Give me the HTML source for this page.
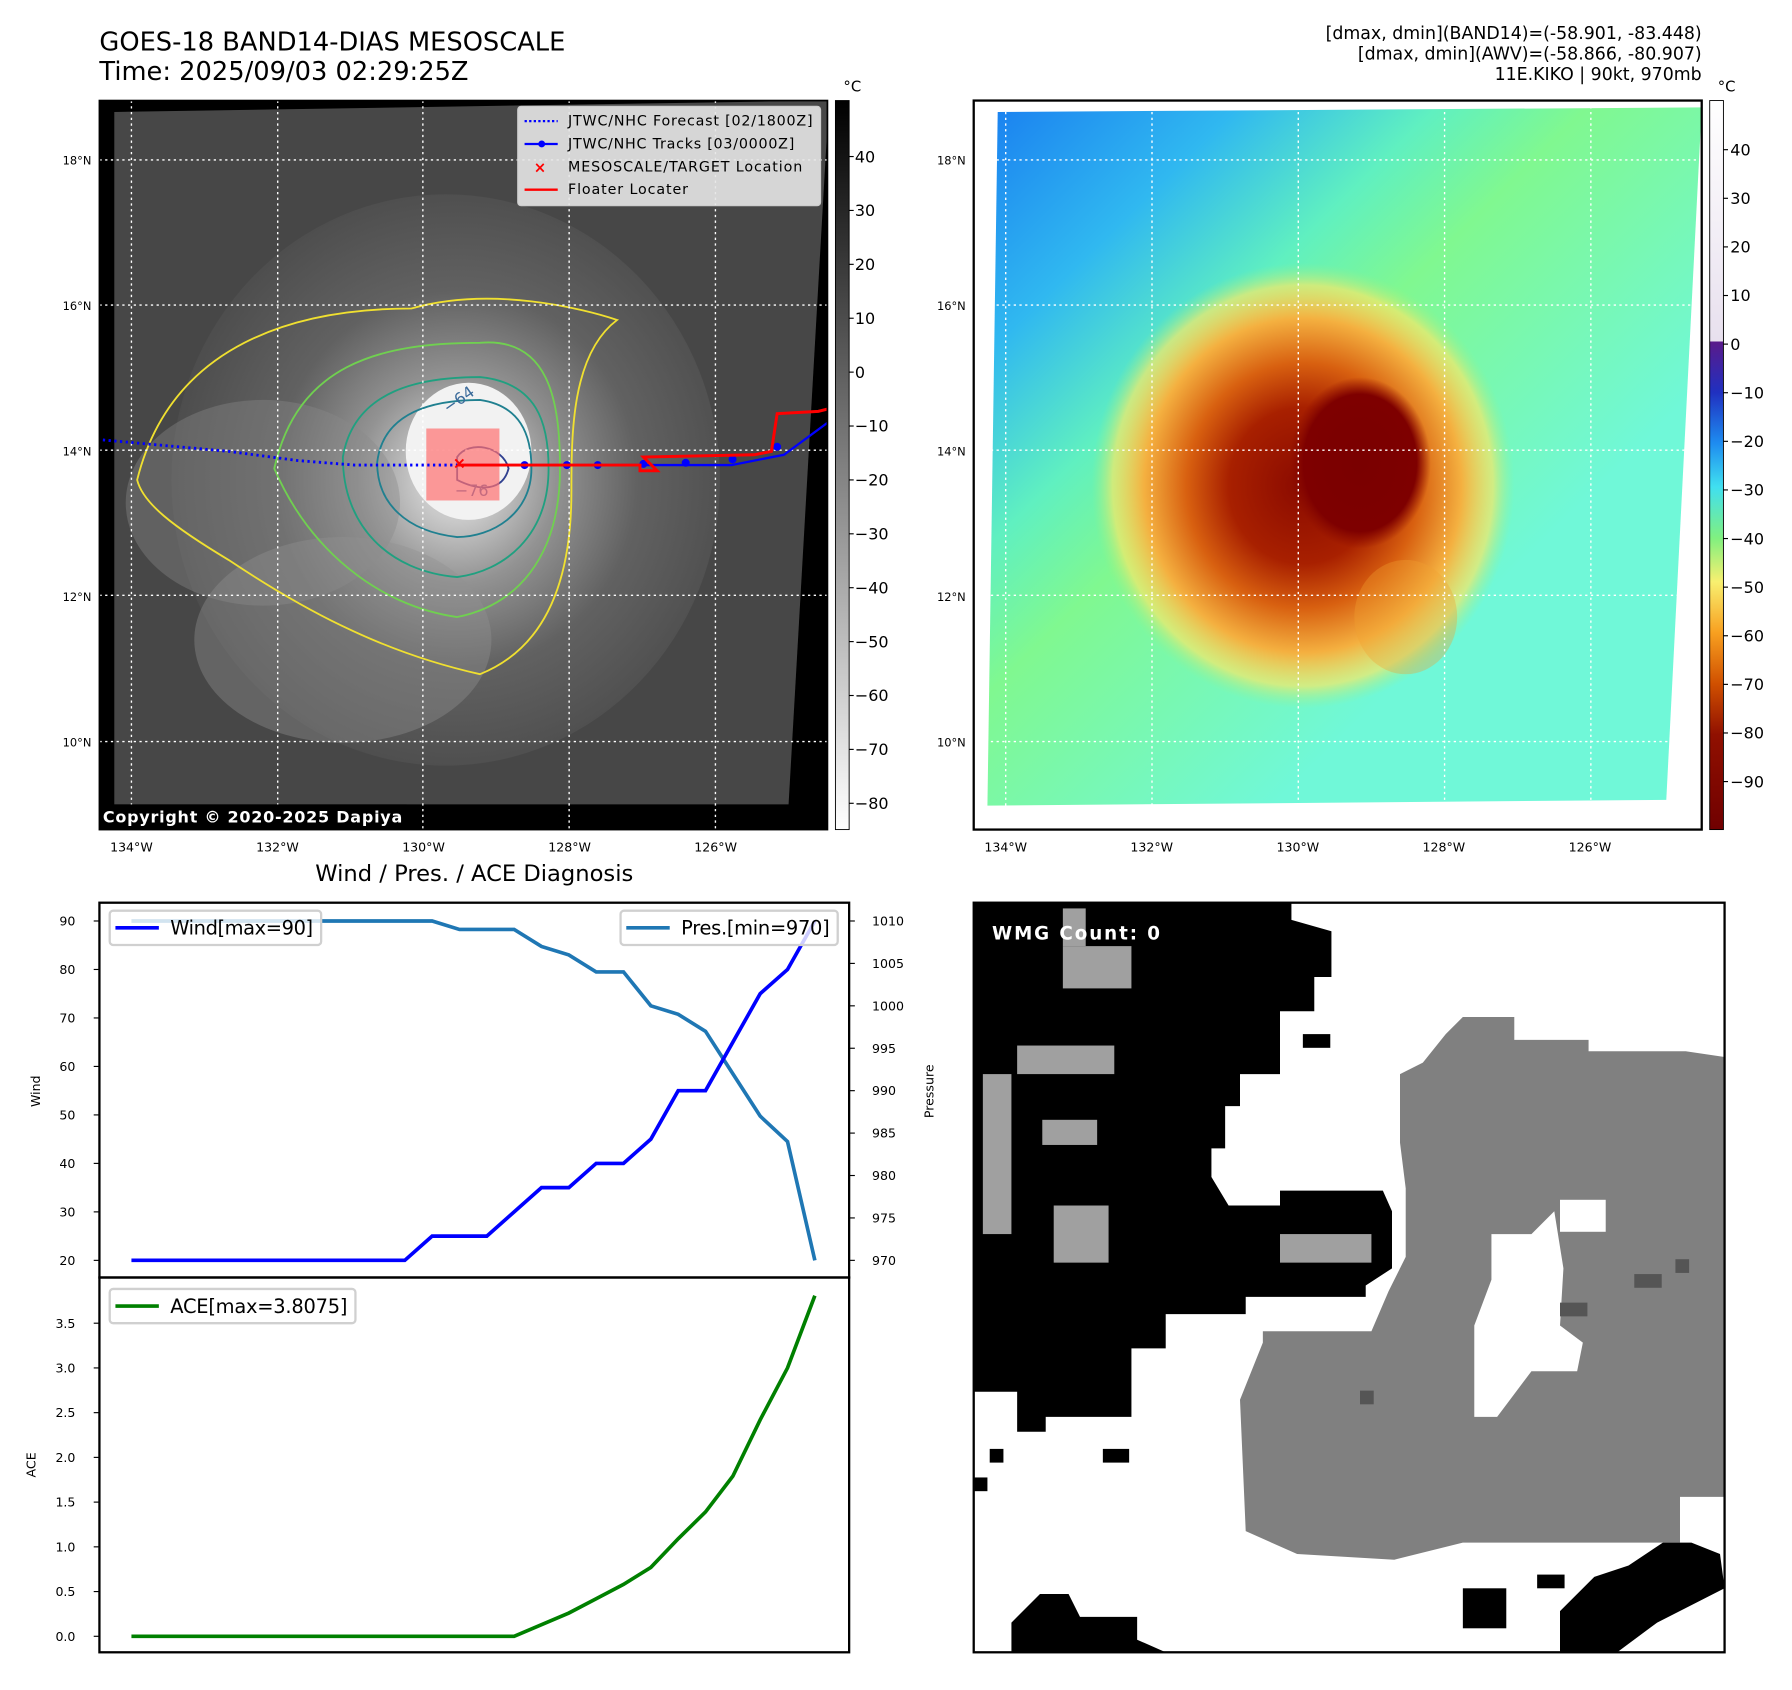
<!DOCTYPE html>
<html><head><meta charset="utf-8"><style>
html,body{margin:0;padding:0;background:#fff;}
svg{display:block;font-family:"DejaVu Sans","Liberation Sans",sans-serif;}
</style></head><body>
<svg id="fig" width="1792" height="1690" viewBox="0 0 1568 1479" preserveAspectRatio="none" xmlns="http://www.w3.org/2000/svg">
<defs>
<radialGradient id="cloud" cx="0.52" cy="0.5" r="0.6">
<stop offset="0" stop-color="#f4f4f4"/><stop offset="0.12" stop-color="#e0e0e0"/><stop offset="0.3" stop-color="#a0a0a0"/><stop offset="0.55" stop-color="#666"/><stop offset="1" stop-color="#444"/></radialGradient>
<linearGradient id="gbar" x1="0" y1="0" x2="0" y2="1"><stop offset="0" stop-color="#000"/><stop offset="1" stop-color="#fff"/></linearGradient>
<linearGradient id="cbar" x1="0" y1="0" x2="0" y2="1">
<stop offset="0" stop-color="#ffffff"/><stop offset="0.33" stop-color="#e8e0ee"/><stop offset="0.331" stop-color="#5a1a8a"/><stop offset="0.4" stop-color="#2030c0"/><stop offset="0.47" stop-color="#1e8cf0"/><stop offset="0.53" stop-color="#40e0f0"/><stop offset="0.6" stop-color="#80f080"/><stop offset="0.66" stop-color="#f8f070"/><stop offset="0.73" stop-color="#f8a020"/><stop offset="0.8" stop-color="#d05000"/><stop offset="0.87" stop-color="#901000"/><stop offset="1" stop-color="#700000"/></linearGradient>
<linearGradient id="awvbg" x1="0" y1="0" x2="0.7" y2="0.7"><stop offset="0" stop-color="#1a80f0"/><stop offset="0.25" stop-color="#30b8f0"/><stop offset="0.45" stop-color="#60f0c0"/><stop offset="0.6" stop-color="#80f890"/><stop offset="1" stop-color="#70f8d8"/></linearGradient>
<radialGradient id="awv" cx="0.5" cy="0.5" r="0.5"><stop offset="0" stop-color="#8a0a00"/><stop offset="0.35" stop-color="#a82000"/><stop offset="0.55" stop-color="#d86010"/><stop offset="0.75" stop-color="#f4b040"/><stop offset="0.9" stop-color="#f8e868" stop-opacity="0.7"/><stop offset="1" stop-color="#a0f080" stop-opacity="0"/></radialGradient>
<radialGradient id="eye" cx="0.5" cy="0.5" r="0.5"><stop offset="0" stop-color="#7a0000"/><stop offset="0.8" stop-color="#7e0000"/><stop offset="1" stop-color="#8a0a00" stop-opacity="0"/></radialGradient>
<clipPath id="lclip"><rect x="87" y="88" width="637" height="638"/></clipPath>
</defs>

<text x="87" y="44" font-size="22.5">GOES-18 BAND14-DIAS MESOSCALE</text>
<text x="87" y="70" font-size="22.5">Time: 2025/09/03 02:29:25Z</text>
<g font-size="15.2" text-anchor="end">
<text x="1489" y="34">[dmax, dmin](BAND14)=(-58.901, -83.448)</text>
<text x="1489" y="52">[dmax, dmin](AWV)=(-58.866, -80.907)</text>
<text x="1489" y="70">11E.KIKO | 90kt, 970mb</text>
</g>

<g clip-path="url(#lclip)">
<rect x="87" y="88" width="637" height="638" fill="#000"/>
<polygon points="100,98 724,88 724,110 690,704 100,704" fill="#474747"/>
<ellipse cx="390" cy="420" rx="240" ry="250" fill="url(#cloud)" opacity="0.85"/>
<ellipse cx="230" cy="440" rx="120" ry="90" fill="#8a8a8a" opacity="0.4"/>
<ellipse cx="300" cy="560" rx="130" ry="90" fill="#909090" opacity="0.4"/>
<ellipse cx="410" cy="395" rx="55" ry="60" fill="#f2f2f2"/>
<g fill="none" stroke-width="1.6">
<path d="M120,420 C150,300 260,270 360,270 C430,250 510,270 540,280 C500,310 500,380 500,430 C500,520 470,570 420,590 C330,570 260,530 200,490 C150,460 125,440 120,420Z" stroke="#f0e030"/>
<path d="M240,410 C260,320 330,300 420,300 C480,295 490,350 490,410 C490,490 450,530 400,540 C330,530 270,480 240,410Z" stroke="#70d050"/>
<path d="M300,400 C310,340 370,330 420,330 C470,335 480,370 480,410 C480,470 440,500 400,505 C340,500 300,460 300,400Z" stroke="#20a080"/>
<path d="M330,405 C335,360 380,350 420,350 C455,355 465,380 465,410 C465,450 430,470 400,470 C355,465 330,440 330,405Z" stroke="#208090"/>
<path d="M400,400 C410,385 440,390 445,410 C440,430 420,430 400,420Z" stroke="#304090"/>
</g>
<text x="392" y="362" font-size="14" fill="#3a6a9a" transform="rotate(-35 392 362)">−64</text>
<text x="398" y="434" font-size="14" fill="#3a5aa0">−76</text>
<g stroke="#fff" stroke-width="1.2" stroke-dasharray="2,3">
<line x1="115" y1="88" x2="115" y2="726"/><line x1="243" y1="88" x2="243" y2="726"/><line x1="370" y1="88" x2="370" y2="726"/><line x1="498" y1="88" x2="498" y2="726"/><line x1="626" y1="88" x2="626" y2="726"/>
<line x1="87" y1="140" x2="724" y2="140"/><line x1="87" y1="267" x2="724" y2="267"/><line x1="87" y1="394" x2="724" y2="394"/><line x1="87" y1="521" x2="724" y2="521"/><line x1="87" y1="649" x2="724" y2="649"/>
</g>
<rect x="373" y="375" width="64" height="63" fill="#ff7070" opacity="0.7"/>
<polyline points="90,385 200,395 260,403 310,407 400,407" fill="none" stroke="#0000ff" stroke-width="2.5" stroke-dasharray="2,3"/>
<polyline points="400,407 640,407 686,398 724,370" fill="none" stroke="#0000ff" stroke-width="2"/>
<g fill="#0000ff"><circle cx="459" cy="407" r="3.5"/><circle cx="496" cy="407" r="3.5"/><circle cx="523" cy="407" r="3.5"/><circle cx="563" cy="406" r="3.5"/><circle cx="600" cy="405" r="3.5"/><circle cx="641" cy="402" r="3.5"/><circle cx="680" cy="391" r="3.5"/></g>
<polyline points="400,407 560,407 560,412 575,412 563,400 660,398 675,395 680,362 716,360 724,358" fill="none" stroke="#ff0000" stroke-width="2.6"/>
<text x="396" y="410" font-size="14" font-weight="bold" fill="#ff0000">×</text>
<rect x="84" y="704" width="272" height="22" fill="#000"/>
<text x="90" y="720" font-size="14" font-weight="bold" fill="#fff" textLength="262">Copyright © 2020-2025 Dapiya</text>
</g>
<rect x="87" y="88" width="637" height="638" fill="none" stroke="#000" stroke-width="1.5"/>
<g font-size="12.5">
<rect x="453" y="93" width="265" height="87" rx="3" fill="#e6e6e6" fill-opacity="0.9" stroke="#ccc"/>
<line x1="459" y1="106" x2="488" y2="106" stroke="#0000ff" stroke-width="2" stroke-dasharray="2,2"/><text x="497" y="110" textLength="214">JTWC/NHC Forecast [02/1800Z]</text>
<line x1="459" y1="126" x2="488" y2="126" stroke="#0000ff" stroke-width="2"/><circle cx="474" cy="126" r="3" fill="#0000ff"/><text x="497" y="130" textLength="198">JTWC/NHC Tracks [03/0000Z]</text>
<text x="467" y="151" fill="#ff0000" font-weight="bold" font-size="13">×</text><text x="497" y="150" textLength="205">MESOSCALE/TARGET Location</text>
<line x1="459" y1="166" x2="488" y2="166" stroke="#ff0000" stroke-width="2"/><text x="497" y="170" textLength="105">Floater Locater</text>
</g>
<rect x="731" y="88" width="12" height="638" fill="url(#gbar)" stroke="#000" stroke-width="0.8"/>
<text x="738" y="80" font-size="13">°C</text>
<g id="lcb" font-size="14"></g>
<g id="lmapticks" font-size="11"></g>

<g>
<rect x="852" y="88" width="637" height="638" fill="#fff"/>
<polygon points="873,98 1489,94 1458,700 864,705" fill="url(#awvbg)"/>
<ellipse cx="1140" cy="425" rx="185" ry="195" fill="url(#awv)"/>
<ellipse cx="1230" cy="540" rx="45" ry="50" fill="#f0a030" opacity="0.35"/>
<ellipse cx="1190" cy="405" rx="62" ry="75" fill="url(#eye)"/>
<g stroke="#fff" stroke-width="1.2" stroke-dasharray="2,3">
<line x1="880" y1="88" x2="880" y2="726"/><line x1="1008" y1="88" x2="1008" y2="726"/><line x1="1136" y1="88" x2="1136" y2="726"/><line x1="1264" y1="88" x2="1264" y2="726"/><line x1="1392" y1="88" x2="1392" y2="726"/>
<line x1="852" y1="140" x2="1489" y2="140"/><line x1="852" y1="267" x2="1489" y2="267"/><line x1="852" y1="394" x2="1489" y2="394"/><line x1="852" y1="521" x2="1489" y2="521"/><line x1="852" y1="649" x2="1489" y2="649"/>
</g>
<rect x="852" y="88" width="637" height="638" fill="none" stroke="#000" stroke-width="2"/>
</g>
<rect x="1496" y="88" width="12" height="638" fill="url(#cbar)" stroke="#000" stroke-width="0.8"/>
<text x="1503" y="80" font-size="13">°C</text>
<g id="rcb" font-size="14"></g>

<text x="415" y="771" font-size="19.8" text-anchor="middle">Wind / Pres. / ACE Diagnosis</text>
<g id="diag"></g>

<g>
<rect x="852" y="790" width="657" height="656" fill="#fff"/>
<polygon fill="#808080" points="1225,940 1245,930 1265,905 1280,890 1325,890 1325,910 1390,910 1390,920 1475,920 1509,925 1509,1310 1470,1310 1470,1350 1280,1350 1220,1365 1135,1360 1090,1340 1085,1225 1105,1175 1105,1165 1200,1165 1215,1130 1230,1100 1230,1040 1225,1000"/>
<polygon fill="#fff" points="1305,1080 1340,1080 1360,1060 1368,1110 1365,1160 1385,1175 1380,1200 1340,1200 1310,1240 1290,1240 1290,1160 1305,1120"/>
<rect x="1365" y="1050" width="40" height="28" fill="#fff"/>
<polygon fill="#000" points="852,790 1130,790 1130,805 1165,815 1165,855 1150,855 1150,885 1120,885 1120,940 1085,940 1085,968 1072,968 1072,1005 1060,1005 1060,1030 1075,1055 1120,1055 1120,1042 1210,1042 1218,1060 1218,1110 1195,1125 1195,1135 1090,1135 1090,1150 1020,1150 1020,1180 990,1180 990,1240 915,1240 915,1253 890,1253 890,1218 852,1218"/>
<g fill="#a0a0a0"><rect x="930" y="828" width="60" height="37"/><rect x="930" y="795" width="20" height="33"/><rect x="860" y="940" width="25" height="140"/><rect x="890" y="915" width="85" height="25"/><rect x="922" y="1055" width="48" height="50"/><rect x="1120" y="1080" width="80" height="25"/><rect x="912" y="980" width="48" height="22"/></g>
<polygon fill="#000" points="1365,1446 1365,1410 1395,1380 1425,1370 1455,1350 1480,1350 1505,1360 1509,1390 1450,1420 1415,1446"/>
<polygon fill="#000" points="885,1446 885,1420 910,1395 935,1395 945,1415 995,1415 995,1435 1020,1446"/>
<g fill="#000"><rect x="1280" y="1390" width="38" height="35"/><rect x="965" y="1268" width="23" height="12"/><rect x="866" y="1268" width="12" height="12"/><rect x="852" y="1293" width="12" height="12"/><rect x="1345" y="1378" width="24" height="12"/><rect x="1140" y="905" width="24" height="12"/><rect x="997" y="1055" width="12" height="12"/></g>
<g fill="#555"><rect x="1365" y="1140" width="24" height="12"/><rect x="1430" y="1115" width="24" height="12"/><rect x="1466" y="1102" width="12" height="12"/><rect x="1190" y="1217" width="12" height="12"/></g>
<rect x="852" y="790" width="657" height="656" fill="none" stroke="#000" stroke-width="2"/>
<text x="868" y="822" font-size="16" font-weight="bold" fill="#fff" textLength="147">WMG Count: 0</text>
</g>
</svg>
<script>
const NS='http://www.w3.org/2000/svg';
const idx=[0,1,2,3,4,5,6,7,8,9,10,11,12,13,14,15,16,17,18,19,20,21,22,23,24,25];
const wind=[20,20,20,20,20,20,20,20,20,20,20,25,25,25,30,35,35,40,40,45,55,55,65,75,80,90];
const pres=[1010,1010,1010,1010,1010,1010,1010,1010,1010,1010,1010,1010,1009,1009,1009,1007,1006,1004,1004,1000,999,997,992,987,984,970];
const ace=[0,0,0,0,0,0,0,0,0,0,0,0,0,0,0,0.13,0.26,0.42,0.58,0.77,1.09,1.39,1.79,2.42,3.0,3.8075];
const windTicks=[20,30,40,50,60,70,80,90];
const presTicks=[970,975,980,985,990,995,1000,1005,1010];
const aceTicks=[0.0,0.5,1.0,1.5,2.0,2.5,3.0,3.5];
const irTicks=[40,30,20,10,0,-10,-20,-30,-40,-50,-60,-70,-80];
const awvTicks=[40,30,20,10,0,-10,-20,-30,-40,-50,-60,-70,-80,-90];
const lonTicks=['134°W','132°W','130°W','128°W','126°W'];
const latTicks=['18°N','16°N','14°N','12°N','10°N'];

const xs=i=>115+i*(713-115)/25;
const yw=v=>1103-(v-20)*(1103-806)/70;
const yp=v=>1103-(v-970)*(1103-806)/40;
const ya=v=>1432-v*(1432-1158)/3.5;
const yir=v=>137+(40-v)*(703-137)/120;
const yawv=v=>131+(40-v)*(684-131)/130;
function el(tag,attrs,parent,txt){const e=document.createElementNS(NS,tag);for(const k in attrs)e.setAttribute(k,attrs[k]);if(txt!==undefined)e.textContent=txt;parent.appendChild(e);return e;}
const d=document.getElementById('diag');
let f1=el('rect',{x:87,y:790,width:656,height:328,fill:'none',stroke:'#000','stroke-width':2},d);


let f2=el('rect',{x:87,y:1118,width:656,height:328,fill:'none',stroke:'#000','stroke-width':2},d);


windTicks.forEach(v=>{const y=yw(v);el('line',{x1:82,y1:y,x2:87,y2:y,stroke:'#000'},d);const t=el('text',{x:66,y:y+4,'font-size':11,'text-anchor':'end'},d,String(v));});
presTicks.forEach(v=>{const y=yp(v);el('line',{x1:743,y1:y,x2:748,y2:y,stroke:'#000'},d);const t=el('text',{x:763,y:y+4,'font-size':11},d,String(v));});
aceTicks.forEach(v=>{const y=ya(v);el('line',{x1:82,y1:y,x2:87,y2:y,stroke:'#000'},d);const t=el('text',{x:66,y:y+4,'font-size':11,'text-anchor':'end'},d,v.toFixed(1));});
let t1=el('text',{x:35,y:955,'font-size':11,'text-anchor':'middle',transform:'rotate(-90 35 955)'},d,'Wind');

let t2=el('text',{x:817,y:955,'font-size':11,'text-anchor':'middle',transform:'rotate(-90 817 955)'},d,'Pressure');

let t3=el('text',{x:31,y:1282,'font-size':11,'text-anchor':'middle',transform:'rotate(-90 31 1282)'},d,'ACE');

function line(arr,yf,color,name){const p=el('polyline',{points:arr.map((v,i)=>xs(idx[i])+','+yf(v)).join(' '),fill:'none',stroke:color,'stroke-width':3.2,'stroke-linejoin':'miter'},d);}
line(pres,yp,'#1f77b4','pressure-line');
line(wind,yw,'#0000ff','wind-line');
line(ace,ya,'#008000','ace-line');
function legend(x,y,w,color,label,name,tl){const g=el('g',{},d);el('rect',{x:x,y:y,width:w,height:30,rx:3,fill:'#fff','fill-opacity':0.8,stroke:'#d0d0d0','stroke-width':2},g);el('line',{x1:x+5,y1:y+15,x2:x+43,y2:y+15,stroke:color,'stroke-width':3.2},g);el('text',{x:x+53,y:y+21,'font-size':17,textLength:tl},g,label);}
legend(96,797,185,'#0000ff','Wind[max=90]','wind-legend',125);
legend(543,797,190,'#1f77b4','Pres.[min=970]','pressure-legend',130);
legend(96,1128,215,'#008000','ACE[max=3.8075]','ace-legend',155);
const lcb=document.getElementById('lcb');
irTicks.forEach(v=>{const y=yir(v);el('line',{x1:743,y1:y,x2:747,y2:y,stroke:'#000'},lcb);const t=el('text',{x:748,y:y+5},lcb,String(v).replace('-','−'));});
const rcb=document.getElementById('rcb');
awvTicks.forEach(v=>{const y=yawv(v);el('line',{x1:1508,y1:y,x2:1512,y2:y,stroke:'#000'},rcb);const t=el('text',{x:1514,y:y+5},rcb,String(v).replace('-','−'));});
const mt=document.getElementById('lmapticks');
lonTicks.forEach((s,i)=>{[115,880].forEach(x0=>{const t=el('text',{x:x0+i*127.8,y:745,'text-anchor':'middle'},mt,s);});});
latTicks.forEach((s,i)=>{[80,845].forEach(x0=>{const t=el('text',{x:x0,y:144+i*127.3,'text-anchor':'end','font-size':10},mt,s);});});
</script>
</body></html>
